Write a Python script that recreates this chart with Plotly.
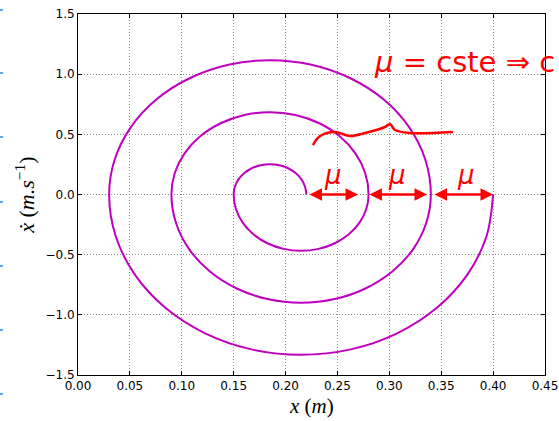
import plotly.graph_objects as go

# Phase-portrait spiral (x in m, xdot in m/s)
pos_x = [0.400, 0.3937, 0.3752, 0.3458, 0.3075, 0.2629, 0.215, 0.1671, 0.1225, 0.0842, 0.0548, 0.0363, 0.030,
         0.0353, 0.0508, 0.0754, 0.1075, 0.1449, 0.185, 0.2251, 0.2625, 0.2946, 0.3192, 0.3347, 0.340,
         0.3357, 0.3233, 0.3034, 0.2775, 0.2474, 0.215, 0.1826, 0.1525, 0.1266, 0.1067, 0.0943, 0.090,
         0.0932, 0.1027, 0.1178, 0.1375, 0.1604, 0.185, 0.2096, 0.2325, 0.2522, 0.2673, 0.2768, 0.280,
         0.2778, 0.2713, 0.2610, 0.2475, 0.2318, 0.215, 0.1982, 0.1825, 0.1690, 0.1587, 0.1522, 0.150,
         0.1512, 0.1547, 0.1603, 0.1675, 0.1759, 0.185, 0.1941, 0.2025, 0.2097, 0.2153, 0.2188, 0.220]
vel = [0.0, -0.345, -0.666, -0.942, -1.154, -1.287, -1.332, -1.287, -1.154, -0.942, -0.666, -0.345, 0.0,
       0.289, 0.558, 0.789, 0.966, 1.078, 1.116, 1.078, 0.966, 0.789, 0.558, 0.289, 0.0,
       -0.233, -0.450, -0.636, -0.779, -0.869, -0.900, -0.869, -0.779, -0.636, -0.450, -0.233, 0.0,
       0.177, 0.342, 0.484, 0.592, 0.661, 0.684, 0.661, 0.592, 0.484, 0.342, 0.177, 0.0,
       -0.121, -0.234, -0.331, -0.405, -0.452, -0.468, -0.452, -0.405, -0.331, -0.234, -0.121, 0.0,
       0.065, 0.126, 0.178, 0.218, 0.243, 0.252, 0.243, 0.218, 0.178, 0.126, 0.065, 0.0]

x_ticks = [0.00, 0.05, 0.10, 0.15, 0.20, 0.25, 0.30, 0.35, 0.40, 0.45]
y_ticks = [-1.5, -1.0, -0.5, 0.0, 0.5, 1.0, 1.5]

# Hand-drawn red annotations
brace_x = [0.2264, 0.2332, 0.2476, 0.2621, 0.2766, 0.2958, 0.3006, 0.3055, 0.3199, 0.3613]
brace_y = [0.411, 0.486, 0.520, 0.486, 0.511, 0.561, 0.586, 0.536, 0.511, 0.520]
arrow_from = [0.2216, 0.2794, 0.3421]
arrow_to = [0.2698, 0.3363, 0.3999]
mu_x = [0.2457, 0.3074, 0.3739]
mu_y = 0.16

fig = go.Figure()
fig.add_trace(go.Scatter(x=pos_x, y=vel, mode="lines",
                         line=dict(color="#bf00bf", width=2, shape="spline", smoothing=1.0),
                         showlegend=False, hoverinfo="skip"))
fig.add_trace(go.Scatter(x=brace_x, y=brace_y, mode="lines",
                         line=dict(color="#ff0000", width=2.5, shape="spline"),
                         showlegend=False, hoverinfo="skip"))

for a, b in zip(arrow_from, arrow_to):
    fig.add_annotation(x=b, y=0, ax=a, ay=0, axref="x", ayref="y", xref="x", yref="y",
                       text="", showarrow=True, arrowside="end+start", arrowhead=2,
                       arrowsize=1, arrowwidth=2.5, arrowcolor="#ff0000")
for mx in mu_x:
    fig.add_annotation(x=mx, y=mu_y, xref="x", yref="y", text="<i>μ</i>", showarrow=False,
                       font=dict(family="DejaVu Sans", size=26, color="#ff0000"))

fig.add_annotation(x=0.63, y=0.867, xref="paper", yref="paper", xanchor="left", yanchor="middle",
                   text="<i>μ</i> = cste ⇒ c", showarrow=False,
                   font=dict(family="DejaVu Sans", size=29, color="#ff0000"))

# axis titles
fig.add_annotation(x=0.499, y=-0.086, xref="paper", yref="paper", xanchor="center", yanchor="middle",
                   text="<i>x</i> (<i>m</i>)", showarrow=False,
                   font=dict(family="Liberation Serif", size=21, color="black"))
fig.add_annotation(x=-0.114, y=0.4986, xref="paper", yref="paper", xanchor="center", yanchor="middle",
                   text="<i>ẋ</i> (<i>m.s</i><sup>−1</sup>)", showarrow=False, textangle=-90,
                   font=dict(family="Liberation Serif", size=22, color="black"))

# small blue marks at the left edge of the image
for py in [10, 73, 137, 202, 266, 330, 394]:
    yp = (375 - py) / 361
    fig.add_shape(type="line", xref="paper", yref="paper", x0=-78 / 467, x1=-75 / 467,
                  y0=yp, y1=yp, line=dict(color="#5aaaf5", width=2))

axis_common = dict(showline=True, mirror="ticks", linecolor="black", linewidth=1,
                   ticks="inside", ticklen=4, tickcolor="black", automargin=False,
                   showgrid=True, gridcolor="#8c8c8c", griddash="1px,2px", gridwidth=1,
                   zeroline=False, tickfont=dict(family="DejaVu Sans", size=12, color="black"))

fig.update_xaxes(range=[0, 0.45], tickvals=x_ticks, tickformat=".2f", **axis_common)
fig.update_yaxes(range=[-1.5, 1.5], tickvals=y_ticks, tickformat=".1f", **axis_common)

fig.update_layout(width=559, height=421, margin=dict(l=78, r=14, t=14, b=46),
                  paper_bgcolor="white", plot_bgcolor="white")

fig.write_html("out.html", config={"displayModeBar": False},
               post_script="document.body.style.margin='0';document.body.style.overflow='hidden';")
